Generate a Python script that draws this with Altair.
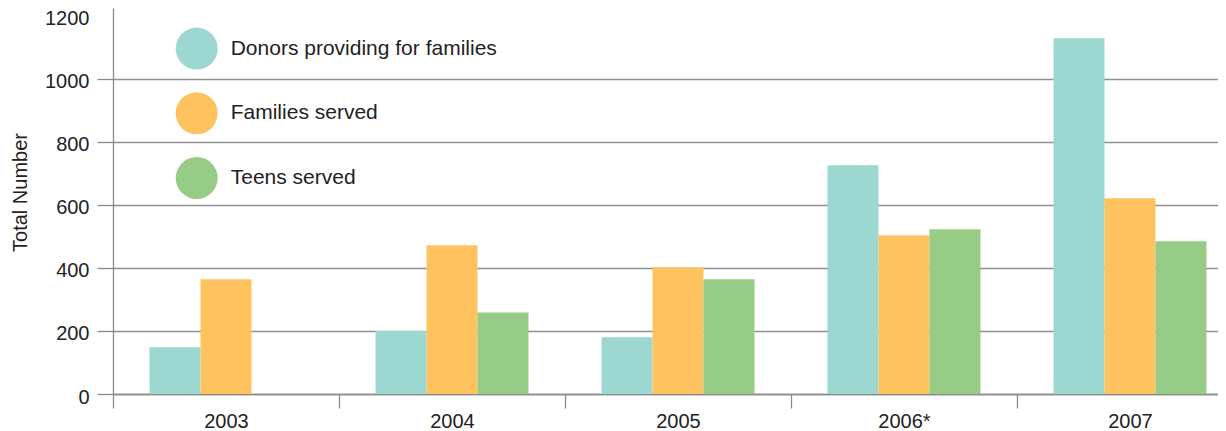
import altair as alt
import pandas as pd

years = ["2003", "2004", "2005", "2006*", "2007"]
series = ["Donors providing for families", "Families served", "Teens served"]
donors = [148, 200, 180, 726, 1129]
families = [364, 472, 402, 504, 621]
teens = [None, 259, 364, 523, 485]
colors = ["#9cd7d2", "#fec35f", "#97cc87"]
y_ticks = [0, 200, 400, 600, 800, 1000, 1200]

rows = []
for i, yr in enumerate(years):
    for s, vals in zip(series, [donors, families, teens]):
        if vals[i] is not None:
            rows.append({"year": yr, "series": s, "value": vals[i]})
df = pd.DataFrame(rows)

FONT = "Liberation Sans"

chart = alt.Chart(df).mark_bar().encode(
    x=alt.X(
        "year:N", sort=years,
        scale=alt.Scale(range=[0, 1130], paddingInner=0, paddingOuter=0),
        axis=alt.Axis(title=None, tickBand="extent", labelAngle=0, tickSize=14,
                      labelPadding=3, labelFontSize=20, domainColor="#8a8a8a",
                      tickColor="#8a8a8a", domainWidth=1.3, tickWidth=1.3),
    ),
    xOffset=alt.XOffset("series:N", sort=series,
                        scale=alt.Scale(paddingInner=0, paddingOuter=0.716)),
    y=alt.Y(
        "value:Q",
        scale=alt.Scale(domain=[0, 1225], nice=False, zero=True),
        axis=alt.Axis(
            values=y_ticks, format="d", title="Total Number", titleFontSize=20,
            titleFontWeight="normal", titlePadding=14, titleColor="#222222",
            titleY=184,
            tickSize=16, labelPadding=8, labelFontSize=20, labelOffset=3,
            grid=True, gridColor="#909090", gridWidth=1.3,
            gridOpacity=alt.condition("datum.value >= 1200", alt.value(0), alt.value(1)),
            tickOpacity=alt.condition("datum.value >= 1200", alt.value(0), alt.value(1)),
            domainColor="#8a8a8a", tickColor="#8a8a8a", domainWidth=1.3, tickWidth=1.3,
        ),
    ),
    color=alt.Color(
        "series:N", sort=series,
        scale=alt.Scale(domain=series, range=colors),
        legend=alt.Legend(
            title=None, orient="none", legendX=62.7, legendY=19.6,
            symbolType="circle", symbolSize=1764, symbolStrokeWidth=0,
            symbolOpacity=1, labelFontSize=21, labelOffset=13,
            rowPadding=22.7, labelColor="#222222", labelFont=FONT,
            labelLimit=400, padding=0,
        ),
    ),
).properties(
    width=1105, height=386,
    padding={"left": 105, "top": 0, "right": 0, "bottom": 36},
    autosize=alt.AutoSizeParams(type="none"),
).configure_view(stroke=None).configure_axis(
    labelFont=FONT, titleFont=FONT, labelColor="#222222", grid=False,
)

chart.save("out.html", embed_options={"renderer": "svg", "actions": False})
